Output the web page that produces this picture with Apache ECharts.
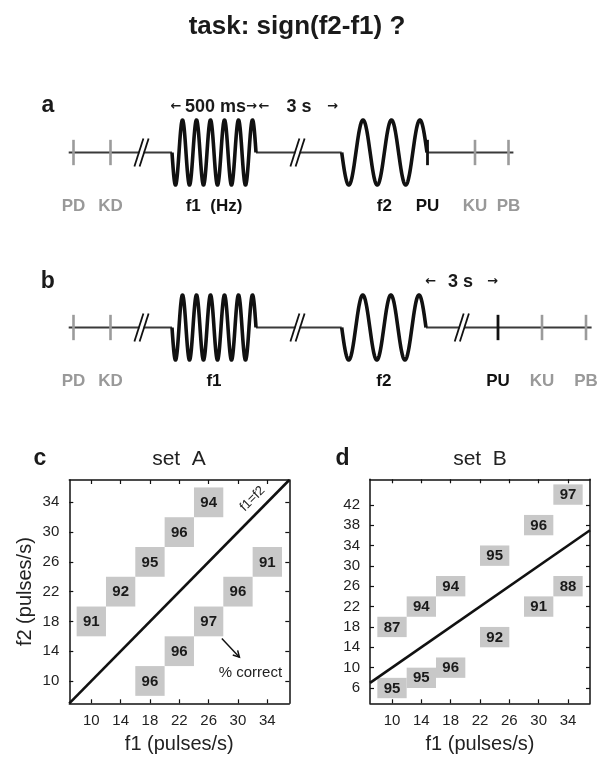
<!DOCTYPE html>
<html>
<head>
<meta charset="utf-8">
<script src="https://cdn.jsdelivr.net/npm/echarts@6/dist/echarts.min.js"></script>
<style>
html,body{margin:0;padding:0;background:#fff;}
#chart{width:598px;height:760px;}
</style>
</head>
<body>
<div id="chart"></div>
<script>
// ---------------- DATA ----------------
// Panel a / b : schematic timeline positions (schematic units along the trial)
const lineSpanA = [68.7, 513.4];
const waveStartA = [172, 341.7];
const waveEndA = [256, 427];
const waveCyclesA = [6, 3];
const waveLabelsA = ['f1  (Hz)', 'f2'];
const markerNamesA = ['PD', 'KD', 'PU', 'KU', 'PB'];
const markerPosA = [73.5, 110.5, 427.5, 475, 508.5];
const markerKindA = ['gray', 'gray', 'black', 'gray', 'gray'];
const breaksA = [141.5, 297.5];

const lineSpanB = [68.7, 591.6];
const waveStartB = [172, 341.7];
const waveEndB = [256, 426];
const waveCyclesB = [6, 3];
const waveLabelsB = ['f1', 'f2'];
const markerNamesB = ['PD', 'KD', 'PU', 'KU', 'PB'];
const markerPosB = [73.5, 110.5, 498, 542, 586];
const markerKindB = ['gray', 'gray', 'black', 'gray', 'gray'];
const breaksB = [141.5, 297.5, 461.8];

// Panel c : set A
const setA_f1 = [10, 14, 18, 22, 26, 18, 22, 26, 30, 34];
const setA_f2 = [18, 22, 26, 30, 34, 10, 14, 18, 22, 26];
const setA_pct = [91, 92, 95, 96, 94, 96, 96, 97, 96, 91];
// Panel d : set B
const setB_f1 = [10, 14, 18, 24, 30, 34, 10, 14, 18, 24, 30, 34];
const setB_f2 = [18, 22, 26, 32, 38, 44, 6, 8, 10, 16, 22, 26];
const setB_pct = [87, 94, 94, 95, 96, 97, 95, 95, 96, 92, 91, 88];

const ticksC_x = [10, 14, 18, 22, 26, 30, 34];
const ticksC_y = [10, 14, 18, 22, 26, 30, 34];
const ticksD_x = [10, 14, 18, 22, 26, 30, 34];
const ticksD_y = [6, 10, 14, 18, 22, 26, 30, 34, 38, 42];
const rangeC_x = [7, 37], rangeC_y = [7, 37];
const rangeD_x = [7, 37], rangeD_y = [3, 47];
const identityLine = [7, 37]; // f1 = f2

// ---------------- HELPERS ----------------
const FONT = '"Liberation Sans", Arial, Helvetica, sans-serif';
const CELL = 4; // cell size in pulses/s

function baselineSegments(span, starts, ends) {
  const segs = [];
  let cur = span[0];
  for (let i = 0; i < starts.length; i++) { segs.push([cur, starts[i]]); cur = ends[i]; }
  segs.push([cur, span[1]]);
  return segs;
}

function schematicSeries(idx, span, starts, ends, cycles, wlabels, mnames, mpos, mkind, breaks, labelDy) {
  const out = [];
  out.push({
    type: 'custom', xAxisIndex: idx, yAxisIndex: idx, silent: true,
    data: baselineSegments(span, starts, ends),
    renderItem: function (p, api) {
      const a = api.coord([api.value(0), 0]), b = api.coord([api.value(1), 0]);
      return { type: 'line', shape: { x1: a[0], y1: a[1], x2: b[0], y2: b[1] },
        style: { stroke: '#3a3a3a', lineWidth: 2 } };
    }
  });
  out.push({
    type: 'custom', xAxisIndex: idx, yAxisIndex: idx, silent: true,
    data: mpos.map((x, i) => [x, i]),
    renderItem: function (p, api) {
      const i = api.value(1);
      const top = api.coord([api.value(0), 0.39]), bot = api.coord([api.value(0), -0.39]);
      const mid = api.coord([api.value(0), 0]);
      const col = mkind[i] === 'gray' ? '#9b9b9b' : '#111';
      return { type: 'group', children: [
        { type: 'line', shape: { x1: top[0], y1: top[1], x2: bot[0], y2: bot[1] },
          style: { stroke: col, lineWidth: mkind[i] === 'gray' ? 2.6 : 2.8 } },
        { type: 'text', x: mid[0], y: mid[1] + labelDy,
          style: { text: mnames[i], fill: mkind[i] === 'gray' ? '#999' : '#111',
            font: 'bold 17px ' + FONT, align: 'center', verticalAlign: 'middle' } }
      ] };
    }
  });
  out.push({
    type: 'custom', xAxisIndex: idx, yAxisIndex: idx, silent: true,
    data: breaks.map(x => [x]),
    renderItem: function (p, api) {
      const c = api.coord([api.value(0), 0]);
      const mk = (dx) => ({ type: 'line',
        shape: { x1: c[0] + dx - 4.5, y1: c[1] + 14, x2: c[0] + dx + 4.5, y2: c[1] - 14 },
        style: { stroke: '#111', lineWidth: 1.8 } });
      return { type: 'group', children: [
        { type: 'rect', shape: { x: c[0] - 2.2, y: c[1] - 2, width: 4.4, height: 4 }, style: { fill: '#fff' } },
        mk(-2.6), mk(2.6)] };
    }
  });
  out.push({
    type: 'custom', xAxisIndex: idx, yAxisIndex: idx, silent: true,
    data: starts.map((s, i) => [s, ends[i], cycles[i], i]),
    renderItem: function (p, api) {
      const s = api.value(0), e = api.value(1), n = api.value(2), i = api.value(3);
      const p0 = api.coord([s, 0]), p1 = api.coord([e, 0]);
      const amp = p0[1] - api.coord([s, 1])[1];
      const pts = [];
      const N = 400;
      for (let k = 0; k <= N; k++) {
        const t = k / N;
        pts.push([p0[0] + (p1[0] - p0[0]) * t, p0[1] + amp * Math.sin(2 * Math.PI * n * t)]);
      }
      return { type: 'group', children: [
        { type: 'polyline', shape: { points: pts },
          style: { stroke: '#111', lineWidth: 3.6, fill: null, lineJoin: 'round' } },
        { type: 'text', x: (p0[0] + p1[0]) / 2, y: p0[1] + labelDy,
          style: { text: wlabels[i], fill: '#111', font: 'bold 17px ' + FONT,
            align: 'center', verticalAlign: 'middle' } }
      ] };
    }
  });
  return out;
}

function cellSeries(xi, f1, f2, pct) {
  return {
    type: 'custom', xAxisIndex: xi, yAxisIndex: xi, silent: true,
    data: f1.map((v, i) => [v, f2[i], pct[i]]),
    renderItem: function (p, api) {
      const x = api.value(0), y = api.value(1);
      const a = api.coord([x - CELL / 2, y + CELL / 2]);
      const b = api.coord([x + CELL / 2, y - CELL / 2]);
      const c = api.coord([x, y]);
      return { type: 'group', children: [
        { type: 'rect', shape: { x: a[0], y: a[1], width: b[0] - a[0], height: b[1] - a[1] },
          style: { fill: '#c8c8c8' } },
        { type: 'text', x: c[0], y: c[1] + 0.5,
          style: { text: String(api.value(2)), fill: '#1a1a1a', font: 'bold 15px ' + FONT,
            align: 'center', verticalAlign: 'middle' } }
      ] };
    }
  };
}

function boxAxes(gi, range, ticks, pos, showLabel, name, nameGap) {
  const ax = {
    type: 'value', gridIndex: gi, position: pos, min: range[0], max: range[1],
    splitLine: { show: false },
    axisLine: { show: true, onZero: false, lineStyle: { color: '#111', width: 1.5 } },
    axisTick: { show: true, inside: true, length: 4, customValues: ticks, lineStyle: { color: '#111', width: 1.2 } },
    axisLabel: { show: showLabel, customValues: ticks, fontSize: 15, color: '#222', fontFamily: FONT, margin: 10 }
  };
  if (name) {
    ax.name = name; ax.nameLocation = 'middle'; ax.nameGap = nameGap;
    ax.nameTextStyle = { fontSize: 20, color: '#222', fontFamily: FONT };
  }
  return ax;
}

const hiddenX = (gi) => ({ type: 'value', gridIndex: gi, min: 0, max: 598, show: false });
const hiddenY = (gi) => ({ type: 'value', gridIndex: gi, min: -1, max: 1, show: false });

// ---------------- OPTION ----------------
const chart = echarts.init(document.getElementById('chart'), null, { renderer: 'canvas' });

const series = [].concat(
  schematicSeries(0, lineSpanA, waveStartA, waveEndA, waveCyclesA, waveLabelsA, markerNamesA, markerPosA, markerKindA, breaksA, 53.5),
  schematicSeries(1, lineSpanB, waveStartB, waveEndB, waveCyclesB, waveLabelsB, markerNamesB, markerPosB, markerKindB, breaksB, 54),
  [
    cellSeries(2, setA_f1, setA_f2, setA_pct),
    { type: 'line', xAxisIndex: 2, yAxisIndex: 2, silent: true, symbol: 'none',
      data: identityLine.map(v => [v, v]), lineStyle: { color: '#111', width: 2.6 } },
    { type: 'custom', xAxisIndex: 2, yAxisIndex: 2, silent: true,
      data: [[31.98, 34.47]],
      renderItem: function (p, api) {
        const c = api.coord([api.value(0), api.value(1)]);
        return { type: 'text', x: c[0], y: c[1], rotation: Math.PI / 4,
          style: { text: 'f1=f2', fill: '#222', font: '13px ' + FONT, align: 'center', verticalAlign: 'middle' } };
      } },
    { type: 'custom', xAxisIndex: 2, yAxisIndex: 2, silent: true,
      data: [[27.8, 15.7, 30.2, 13.2, 31.7, 11.1]],
      renderItem: function (p, api) {
        const a = api.coord([api.value(0), api.value(1)]);
        const b = api.coord([api.value(2), api.value(3)]);
        const t = api.coord([api.value(4), api.value(5)]);
        const ang = Math.atan2(b[1] - a[1], b[0] - a[0]);
        const hl = 7, hw = 0.5;
        const h1 = [b[0] - hl * Math.cos(ang - hw), b[1] - hl * Math.sin(ang - hw)];
        const h2 = [b[0] - hl * Math.cos(ang + hw), b[1] - hl * Math.sin(ang + hw)];
        return { type: 'group', children: [
          { type: 'line', shape: { x1: a[0], y1: a[1], x2: b[0], y2: b[1] }, style: { stroke: '#111', lineWidth: 1.5 } },
          { type: 'polyline', shape: { points: [h1, b, h2] }, style: { stroke: '#111', lineWidth: 1.5, fill: null } },
          { type: 'text', x: t[0], y: t[1], style: { text: '% correct', fill: '#222', font: '15px ' + FONT,
            align: 'center', verticalAlign: 'middle' } }
        ] };
      } },
    cellSeries(4, setB_f1, setB_f2, setB_pct),
    { type: 'line', xAxisIndex: 4, yAxisIndex: 4, silent: true, symbol: 'none',
      data: identityLine.map(v => [v, v]), lineStyle: { color: '#111', width: 2.6 } }
  ]
);

const ARROW = 'bold 13px "DejaVu Sans", ' + FONT;
const option = {
  animation: false,
  backgroundColor: '#fff',
  grid: [
    { left: 0, top: 120, width: 598, height: 65 },
    { left: 0, top: 295, width: 598, height: 65 },
    { left: 69.3, top: 480, width: 220, height: 223.3 },
    { left: 370, top: 479.3, width: 220, height: 224 }
  ],
  xAxis: [
    hiddenX(0), hiddenX(1),
    boxAxes(2, rangeC_x, ticksC_x, 'bottom', true, 'f1 (pulses/s)', 31),
    boxAxes(2, rangeC_x, ticksC_x, 'top', false),
    boxAxes(3, rangeD_x, ticksD_x, 'bottom', true, 'f1 (pulses/s)', 31),
    boxAxes(3, rangeD_x, ticksD_x, 'top', false)
  ],
  yAxis: [
    hiddenY(0), hiddenY(1),
    boxAxes(2, rangeC_y, ticksC_y, 'left', true, 'f2 (pulses/s)', 34),
    boxAxes(2, rangeC_y, ticksC_y, 'right', false),
    boxAxes(3, rangeD_y, ticksD_y, 'left', true),
    boxAxes(3, rangeD_y, ticksD_y, 'right', false)
  ],
  graphic: [
    { type: 'text', x: 297, y: 27, style: { text: 'task: sign(f2-f1) ?', fill: '#1a1a1a', font: 'bold 26px ' + FONT, align: 'center', verticalAlign: 'middle' } },
    { type: 'text', x: 48, y: 106, style: { text: 'a', fill: '#1a1a1a', font: 'bold 23px ' + FONT, align: 'center', verticalAlign: 'middle' } },
    { type: 'text', x: 47.7, y: 281.5, style: { text: 'b', fill: '#1a1a1a', font: 'bold 23px ' + FONT, align: 'center', verticalAlign: 'middle' } },
    { type: 'text', x: 40, y: 459, style: { text: 'c', fill: '#1a1a1a', font: 'bold 23px ' + FONT, align: 'center', verticalAlign: 'middle' } },
    { type: 'text', x: 342.5, y: 459, style: { text: 'd', fill: '#1a1a1a', font: 'bold 23px ' + FONT, align: 'center', verticalAlign: 'middle' } },
    { type: 'text', x: 179, y: 459.5, style: { text: 'set  A', fill: '#222', font: '21px ' + FONT, align: 'center', verticalAlign: 'middle' } },
    { type: 'text', x: 480, y: 459.5, style: { text: 'set  B', fill: '#222', font: '21px ' + FONT, align: 'center', verticalAlign: 'middle' } },
    { type: 'text', x: 176, y: 107, style: { text: '←', fill: '#1a1a1a', font: ARROW, align: 'center', verticalAlign: 'middle' } },
    { type: 'text', x: 215.5, y: 106.7, style: { text: '500 ms', fill: '#1a1a1a', font: 'bold 18px ' + FONT, align: 'center', verticalAlign: 'middle' } },
    { type: 'text', x: 251.5, y: 107, style: { text: '→', fill: '#1a1a1a', font: ARROW, align: 'center', verticalAlign: 'middle' } },
    { type: 'text', x: 264, y: 107, style: { text: '←', fill: '#1a1a1a', font: ARROW, align: 'center', verticalAlign: 'middle' } },
    { type: 'text', x: 299, y: 106.7, style: { text: '3 s', fill: '#1a1a1a', font: 'bold 18px ' + FONT, align: 'center', verticalAlign: 'middle' } },
    { type: 'text', x: 332.5, y: 107, style: { text: '→', fill: '#1a1a1a', font: ARROW, align: 'center', verticalAlign: 'middle' } },
    { type: 'text', x: 430.8, y: 282, style: { text: '←', fill: '#1a1a1a', font: ARROW, align: 'center', verticalAlign: 'middle' } },
    { type: 'text', x: 460.5, y: 281.7, style: { text: '3 s', fill: '#1a1a1a', font: 'bold 18px ' + FONT, align: 'center', verticalAlign: 'middle' } },
    { type: 'text', x: 492.5, y: 282, style: { text: '→', fill: '#1a1a1a', font: ARROW, align: 'center', verticalAlign: 'middle' } }
  ],
  series: series
};
chart.setOption(option);
</script>
</body>
</html>
